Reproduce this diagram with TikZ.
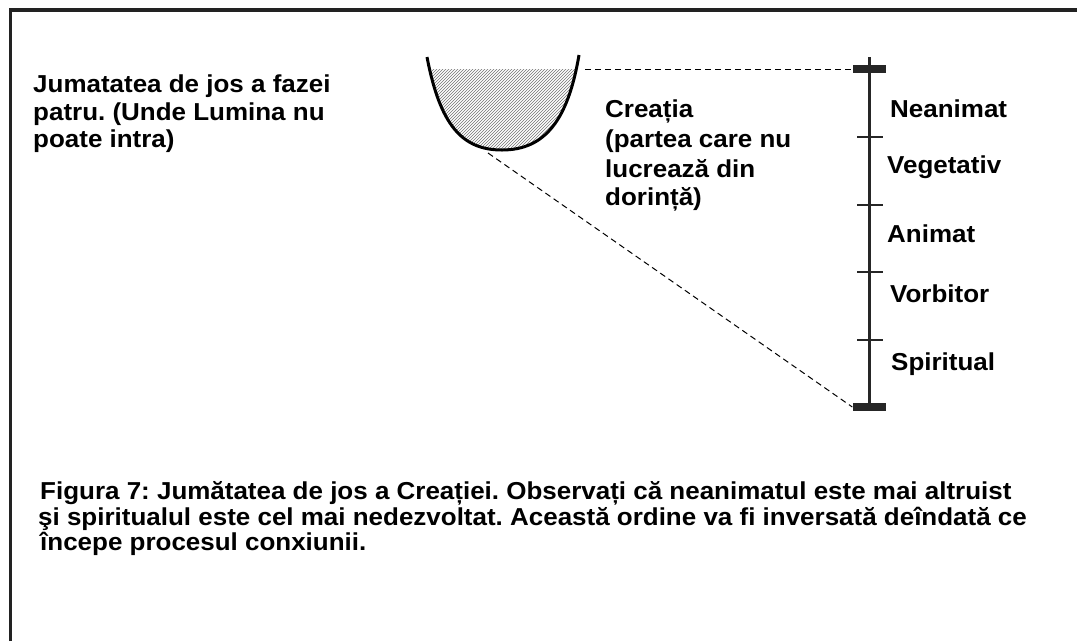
\documentclass[tikz,border=0pt]{standalone}
\usepackage{fontspec}
\setmainfont{Liberation Sans}[FakeStretch=1.06]
\usetikzlibrary{patterns}
\definecolor{framecol}{HTML}{222222}
\tikzset{
  txt/.style={anchor=base west, inner sep=0pt, font=\fontsize{24.5}{28}\selectfont\bfseries\frenchspacing},
  frameline/.style={draw=framecol, line width=3.5pt},
  bowlline/.style={draw=black, line width=3pt},
  guide/.style={draw=black, line width=1pt, dash pattern=on 6pt off 4pt},
  axisline/.style={draw=black!85, line width=3pt},
  tickline/.style={draw=black!85, line width=2.5pt},
  barcap/.style={fill=black!85, inner sep=0pt, minimum width=33pt, minimum height=8pt},
}
\begin{document}
\begin{tikzpicture}[x=1pt,y=-1pt]
\useasboundingbox (0,0) rectangle (1077,641);
\fill[white] (0,0) rectangle (1077,641);
% frame
\draw[frameline] (10.5,641) -- (10.5,10) -- (1077,10);
% bowl
\begin{scope}
  \clip (0,69) rectangle (1077,200);
  \fill[pattern=north east lines, pattern color=black!55]
    (427,57) .. controls (440,125) and (462,150) .. (502,150)
    .. controls (545,150) and (568,120) .. (579,55) -- cycle;
\end{scope}
\draw[bowlline] (427,57) .. controls (440,125) and (462,150) .. (502,150)
    .. controls (545,150) and (568,120) .. (579,55);
\coordinate (bowlR) at (585,69);
\coordinate (bowlB) at (488,153);
% scale
\node[barcap] (topbar) at (869,69) {};
\node[barcap] (botbar) at (869,407) {};
\draw[axisline] ([yshift=12pt]topbar.center) -- (botbar.center);
\foreach \yy in {137,205,272,340} {
  \draw[tickline] (857,\yy) -- (883,\yy);
}
\draw[guide] (bowlR) -- (topbar.west);
\draw[guide] (bowlB) -- (botbar.west);
% labels on the scale
\node[txt] (l1) at (890,117) {Neanimat};
\node[txt] (l2) at (887,173) {Vegetativ};
\node[txt] (l3) at (887,242) {Animat};
\node[txt] (l4) at (890,302) {Vorbitor};
\node[txt] (l5) at (891,370) {Spiritual};
% left text
\node[txt] (j1) at (33,92) {Jumatatea de jos a fazei};
\node[txt] (j2) at (33,120) {patru. (Unde Lumina nu};
\node[txt] (j3) at (33,147) {poate intra)};
% creatia
\node[txt] (c1) at (605,117) {Creația};
\node[txt] (c2) at (605,147) {(partea care nu};
\node[txt] (c3) at (605,177) {lucrează din};
\node[txt] (c4) at (605,205) {dorință)};
% caption
\node[txt] (f1) at (40,499) {Figura 7: Jumătatea de jos a Creației. Observați că neanimatul este mai altruist};
\node[txt] (f2) at (38,525) {şi spiritualul este cel mai nedezvoltat. Această ordine va fi inversată deîndată ce};
\node[txt] (f3) at (40,550) {începe procesul conxiunii.};
\end{tikzpicture}
\end{document}
